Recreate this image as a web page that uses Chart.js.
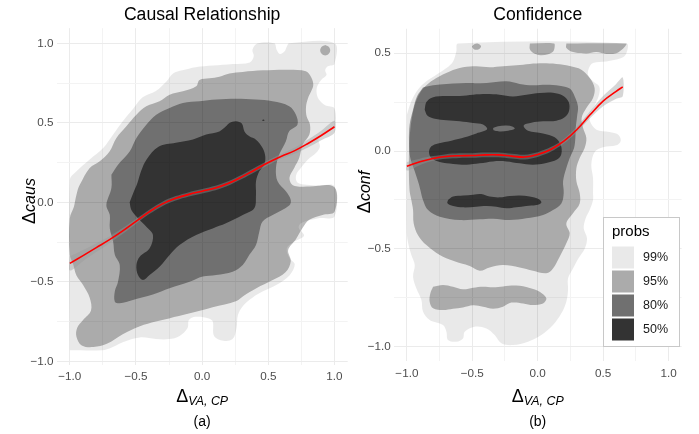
<!DOCTYPE html>
<html>
<head>
<meta charset="utf-8">
<script src="https://cdn.jsdelivr.net/npm/chart.js@4.4.0/dist/chart.umd.min.js"></script>
<style>
  html, body { margin: 0; padding: 0; background: #fff; }
  #wrap { position: relative; width: 699px; height: 434px; }
  canvas { position: absolute; top: 0; }
  #causal { left: 0; }
  #confidence { left: 350px; }
</style>
</head>
<body>
<div id="wrap">
  <canvas id="causal" width="350" height="434"></canvas>
  <canvas id="confidence" width="349" height="434"></canvas>
</div>
<script>
// ---- panel (a): causal relationship, HDR regions as [x, y] outlines ----
const causal99 = [[-1.0,-0.93],[-1.0,0.14],[-0.95,0.195],[-0.85,0.27],[-0.75,0.34],[-0.67,0.43],[-0.60,0.51],[-0.52,0.59],[-0.45,0.66],[-0.35,0.70],[-0.27,0.76],[-0.22,0.81],[-0.15,0.83],[-0.05,0.85],[0.08,0.86],[0.23,0.87],[0.36,0.88],[0.39,0.92],[0.38,0.96],[0.42,1.0],[0.545,1.0],[0.563,0.96],[0.588,0.933],[0.623,0.95],[0.64,0.98],[0.658,1.0],[1.0,1.0],[1.0,0.87],[0.95,0.855],[0.93,0.83],[0.94,0.80],[0.90,0.77],[0.87,0.73],[0.865,0.69],[0.88,0.65],[0.93,0.61],[1.0,0.59],[1.0,0.47],[0.93,0.44],[0.88,0.40],[0.89,0.35],[0.86,0.31],[0.80,0.27],[0.75,0.22],[0.71,0.17],[0.72,0.125],[0.79,0.11],[0.88,0.105],[1.0,0.10],[1.0,-0.09],[0.88,-0.10],[0.75,-0.13],[0.73,-0.16],[0.77,-0.21],[0.69,-0.25],[0.64,-0.29],[0.66,-0.35],[0.70,-0.39],[0.66,-0.46],[0.56,-0.52],[0.46,-0.56],[0.38,-0.60],[0.31,-0.65],[0.27,-0.71],[0.26,-0.79],[0.23,-0.86],[0.16,-0.87],[0.09,-0.84],[0.08,-0.75],[0.05,-0.73],[-0.05,-0.72],[-0.10,-0.74],[-0.11,-0.79],[-0.17,-0.84],[-0.25,-0.86],[-0.35,-0.86],[-0.47,-0.85],[-0.60,-0.88],[-0.70,-0.92],[-0.75,-0.93]];
const causal95 = [[-0.94,0.08],[-0.925,0.11],[-0.85,0.216],[-0.774,0.258],[-0.70,0.32],[-0.648,0.405],[-0.573,0.478],[-0.497,0.551],[-0.422,0.604],[-0.322,0.635],[-0.246,0.677],[-0.146,0.698],[-0.045,0.73],[-0.02,0.77],[0.055,0.78],[0.13,0.79],[0.206,0.81],[0.306,0.82],[0.457,0.83],[0.658,0.834],[0.784,0.824],[0.825,0.785],[0.84,0.74],[0.825,0.70],[0.80,0.655],[0.785,0.60],[0.79,0.54],[0.815,0.49],[0.81,0.425],[0.76,0.363],[0.734,0.28],[0.696,0.216],[0.66,0.153],[0.69,0.105],[0.80,0.10],[1.0,0.095],[1.0,-0.06],[0.91,-0.08],[0.81,-0.11],[0.76,-0.16],[0.71,-0.23],[0.65,-0.30],[0.67,-0.37],[0.63,-0.44],[0.53,-0.49],[0.41,-0.54],[0.31,-0.59],[0.26,-0.62],[0.08,-0.66],[-0.10,-0.70],[-0.25,-0.73],[-0.35,-0.75],[-0.47,-0.78],[-0.60,-0.83],[-0.72,-0.89],[-0.82,-0.91],[-0.91,-0.90],[-0.95,-0.845],[-0.945,-0.79],[-0.90,-0.74],[-0.84,-0.68],[-0.85,-0.60],[-0.90,-0.52],[-0.95,-0.46],[-0.975,-0.39],[-1.0,-0.33],[-1.0,-0.10],[-0.97,-0.03],[-0.955,0.03]];
const causal95Dot = [[0.93,0.99],[0.957,0.978],[0.968,0.956],[0.957,0.934],[0.93,0.924],[0.903,0.934],[0.892,0.956],[0.903,0.978]];
const causal80 = [[-0.686,0.174],[-0.636,0.237],[-0.548,0.32],[-0.497,0.405],[-0.422,0.488],[-0.347,0.551],[-0.246,0.593],[-0.146,0.625],[-0.02,0.635],[0.106,0.646],[0.256,0.652],[0.407,0.646],[0.533,0.635],[0.658,0.604],[0.709,0.551],[0.72,0.488],[0.658,0.447],[0.633,0.384],[0.583,0.30],[0.558,0.216],[0.57,0.132],[0.633,0.069],[0.67,0.015],[0.658,-0.02],[0.533,-0.08],[0.457,-0.12],[0.432,-0.185],[0.407,-0.268],[0.357,-0.33],[0.307,-0.394],[0.231,-0.436],[0.106,-0.457],[0.005,-0.467],[-0.095,-0.50],[-0.246,-0.54],[-0.372,-0.58],[-0.523,-0.614],[-0.623,-0.635],[-0.66,-0.625],[-0.66,-0.56],[-0.636,-0.50],[-0.623,-0.394],[-0.66,-0.33],[-0.673,-0.247],[-0.698,-0.164],[-0.698,-0.08],[-0.724,-0.017],[-0.686,0.09]];
const causal50 = [[-0.548,0.0],[-0.52,0.06],[-0.49,0.12],[-0.46,0.20],[-0.42,0.27],[-0.33,0.35],[-0.20,0.375],[-0.07,0.395],[0.03,0.426],[0.13,0.446],[0.18,0.478],[0.206,0.499],[0.256,0.51],[0.30,0.495],[0.32,0.446],[0.357,0.415],[0.407,0.394],[0.457,0.342],[0.477,0.289],[0.47,0.237],[0.432,0.195],[0.407,0.132],[0.407,0.048],[0.394,-0.038],[0.307,-0.08],[0.18,-0.132],[0.08,-0.164],[-0.045,-0.205],[-0.171,-0.268],[-0.246,-0.331],[-0.322,-0.405],[-0.397,-0.457],[-0.447,-0.488],[-0.485,-0.457],[-0.497,-0.394],[-0.472,-0.342],[-0.397,-0.289],[-0.372,-0.205],[-0.422,-0.153],[-0.485,-0.10],[-0.535,-0.048]];
const causal50Dot = [[0.452,0.516],[0.462,0.521],[0.472,0.516],[0.462,0.511]];

const causalFitX  = [-1.0,-0.9,-0.8,-0.7,-0.6,-0.5,-0.4,-0.3,-0.2,-0.1,0.0,0.1,0.2,0.3,0.4,0.5,0.6,0.7,0.8,0.9,1.0];
const causalFitY  = [-0.384,-0.335,-0.285,-0.235,-0.18,-0.12,-0.06,-0.01,0.025,0.05,0.07,0.09,0.12,0.16,0.205,0.25,0.29,0.325,0.37,0.42,0.475];
const causalFitSe = [0.045,0.035,0.028,0.022,0.018,0.015,0.014,0.014,0.014,0.014,0.014,0.014,0.014,0.014,0.014,0.015,0.016,0.02,0.025,0.03,0.038];

// ---- panel (b): confidence ----
const conf99 = [[-1.0,0.186],[-0.966,0.254],[-0.915,0.314],[-0.851,0.356],[-0.775,0.39],[-0.698,0.424],[-0.647,0.458],[-0.622,0.51],[-0.609,0.55],[0.678,0.55],[0.678,0.50],[0.64,0.475],[0.525,0.458],[0.423,0.45],[0.392,0.424],[0.385,0.39],[0.423,0.356],[0.47,0.33],[0.47,0.29],[0.44,0.24],[0.40,0.19],[0.40,0.152],[0.449,0.109],[0.55,0.097],[0.614,0.084],[0.635,0.053],[0.601,0.029],[0.50,0.019],[0.436,-0.005],[0.41,-0.07],[0.423,-0.138],[0.423,-0.215],[0.423,-0.25],[0.398,-0.30],[0.367,-0.344],[0.352,-0.395],[0.377,-0.446],[0.36,-0.498],[0.311,-0.549],[0.27,-0.60],[0.232,-0.651],[0.232,-0.711],[0.219,-0.77],[0.181,-0.83],[0.117,-0.89],[0.028,-0.941],[-0.074,-0.975],[-0.189,-0.992],[-0.278,-0.983],[-0.329,-0.941],[-0.392,-0.907],[-0.482,-0.898],[-0.558,-0.924],[-0.571,-0.958],[-0.622,-0.975],[-0.686,-0.966],[-0.698,-0.924],[-0.724,-0.89],[-0.826,-0.864],[-0.877,-0.821],[-0.889,-0.762],[-0.928,-0.702],[-0.953,-0.643],[-0.94,-0.583],[-0.966,-0.532],[-0.99,-0.472],[-1.0,-0.421]];
const conf95 = [[-0.98,0.066],[-0.966,0.152],[-0.94,0.237],[-0.90,0.297],[-0.851,0.336],[-0.775,0.373],[-0.673,0.407],[-0.571,0.428],[-0.469,0.433],[-0.367,0.428],[-0.265,0.433],[-0.163,0.438],[-0.061,0.445],[0.041,0.448],[0.143,0.445],[0.245,0.435],[0.334,0.416],[0.398,0.373],[0.435,0.322],[0.423,0.271],[0.372,0.22],[0.336,0.169],[0.347,0.118],[0.372,0.066],[0.359,0.015],[0.321,-0.036],[0.296,-0.087],[0.296,-0.155],[0.321,-0.215],[0.321,-0.268],[0.27,-0.318],[0.219,-0.37],[0.245,-0.421],[0.219,-0.472],[0.168,-0.54],[0.117,-0.60],[0.066,-0.625],[-0.036,-0.612],[-0.138,-0.595],[-0.265,-0.583],[-0.367,-0.595],[-0.443,-0.612],[-0.52,-0.588],[-0.647,-0.561],[-0.749,-0.532],[-0.851,-0.481],[-0.915,-0.43],[-0.948,-0.37],[-0.953,-0.30],[-0.966,-0.25],[-0.98,-0.199],[-0.985,-0.053]];
const conf95Band = [[-0.80,-0.694],[-0.724,-0.685],[-0.647,-0.694],[-0.571,-0.707],[-0.494,-0.699],[-0.418,-0.694],[-0.341,-0.697],[-0.265,-0.692],[-0.163,-0.688],[-0.061,-0.70],[0.015,-0.719],[0.066,-0.753],[0.041,-0.779],[-0.036,-0.787],[-0.112,-0.779],[-0.201,-0.775],[-0.265,-0.796],[-0.341,-0.806],[-0.418,-0.796],[-0.494,-0.789],[-0.571,-0.80],[-0.647,-0.806],[-0.724,-0.813],[-0.80,-0.804],[-0.826,-0.77],[-0.821,-0.728]];
const conf95TopA = [[-0.503,0.533],[-0.485,0.546],[-0.455,0.548],[-0.433,0.535],[-0.45,0.52],[-0.485,0.519]];
const conf95TopB = [[-0.06,0.55],[-0.06,0.52],[-0.03,0.50],[0.02,0.49],[0.08,0.495],[0.12,0.51],[0.13,0.535],[0.125,0.55]];
const conf95TopC = [[0.219,0.55],[0.219,0.527],[0.27,0.506],[0.372,0.499],[0.449,0.506],[0.525,0.496],[0.601,0.50],[0.652,0.523],[0.678,0.544],[0.678,0.55]];
const conf80 = [[-0.877,0.325],[-0.80,0.336],[-0.596,0.346],[-0.392,0.348],[-0.24,0.356],[-0.138,0.343],[-0.036,0.336],[0.066,0.339],[0.168,0.334],[0.245,0.319],[0.283,0.279],[0.308,0.228],[0.301,0.177],[0.291,0.118],[0.288,0.066],[0.278,0.015],[0.245,-0.036],[0.219,-0.087],[0.194,-0.155],[0.199,-0.215],[0.181,-0.268],[0.117,-0.302],[0.041,-0.327],[-0.087,-0.344],[-0.214,-0.353],[-0.341,-0.346],[-0.443,-0.349],[-0.596,-0.353],[-0.749,-0.336],[-0.838,-0.302],[-0.877,-0.25],[-0.897,-0.199],[-0.907,-0.172],[-0.94,-0.104],[-0.974,-0.036],[-0.984,0.049],[-0.979,0.135],[-0.953,0.211],[-0.923,0.279]];
const conf50 = [[-0.864,0.211],[-0.851,0.25],[-0.805,0.274],[-0.698,0.281],[-0.596,0.281],[-0.494,0.288],[-0.392,0.291],[-0.291,0.288],[-0.189,0.279],[-0.087,0.288],[0.015,0.297],[0.117,0.298],[0.194,0.283],[0.237,0.25],[0.24,0.206],[0.206,0.172],[0.143,0.155],[0.041,0.152],[-0.048,0.145],[-0.107,0.131],[-0.074,0.104],[0.041,0.09],[0.13,0.07],[0.176,0.032],[0.181,-0.015],[0.148,-0.044],[0.066,-0.061],[-0.036,-0.07],[-0.138,-0.063],[-0.24,-0.053],[-0.341,-0.053],[-0.443,-0.063],[-0.545,-0.07],[-0.647,-0.066],[-0.749,-0.056],[-0.813,-0.036],[-0.831,-0.005],[-0.813,0.024],[-0.762,0.039],[-0.66,0.053],[-0.558,0.07],[-0.469,0.09],[-0.387,0.111],[-0.418,0.135],[-0.494,0.143],[-0.596,0.152],[-0.698,0.157],[-0.787,0.165],[-0.844,0.182]];
const conf50Hole = [[-0.341,0.118],[-0.303,0.126],[-0.24,0.13],[-0.189,0.124],[-0.176,0.114],[-0.227,0.104],[-0.291,0.10],[-0.336,0.106]];
const conf50Band = [[-0.686,-0.25],[-0.647,-0.233],[-0.571,-0.228],[-0.494,-0.223],[-0.431,-0.22],[-0.367,-0.233],[-0.291,-0.237],[-0.214,-0.23],[-0.138,-0.227],[-0.061,-0.233],[0.01,-0.247],[0.028,-0.264],[-0.01,-0.276],[-0.087,-0.281],[-0.163,-0.288],[-0.24,-0.293],[-0.316,-0.285],[-0.392,-0.281],[-0.469,-0.285],[-0.571,-0.288],[-0.647,-0.281],[-0.69,-0.267]];

const confFitX  = [-1.0,-0.9,-0.8,-0.7,-0.6,-0.5,-0.4,-0.3,-0.2,-0.1,0.0,0.1,0.2,0.3,0.4,0.5,0.6,0.65];
const confFitY  = [-0.078,-0.055,-0.038,-0.028,-0.024,-0.023,-0.02,-0.02,-0.026,-0.031,-0.018,0.008,0.05,0.11,0.185,0.255,0.305,0.328];
const confFitSe = [0.022,0.016,0.012,0.012,0.012,0.012,0.012,0.012,0.012,0.012,0.012,0.012,0.012,0.014,0.018,0.026,0.038,0.048];

const levelLabels = ['99%', '95%', '80%', '50%'];
const levelColors = ['#E9E9E9', '#ABABAB', '#707070', '#333333'];
// translucent black, stacked so the nested regions give the colours above
const levelFills = ['rgba(0,0,0,0.086)', 'rgba(0,0,0,0.266)', 'rgba(0,0,0,0.345)', 'rgba(0,0,0,0.545)'];

const FONT = "'Liberation Sans', Arial, Helvetica, sans-serif";

function region(points, fill, order) {
    const data = points.map(([x, y]) => ({x, y}));
    data.push(data[0]);
    return {
        data: data,
        showLine: true,
        fill: 'shape',
        backgroundColor: fill,
        borderColor: 'rgba(0,0,0,0)',
        borderWidth: 0,
        pointRadius: 0,
        tension: 0.35,
        order: order
    };
}

function ribbon(xs, ys, se) {
    const upper = xs.map((x, i) => ({x, y: ys[i] + se[i]}));
    const lower = xs.map((x, i) => ({x, y: ys[i] - se[i]})).reverse();
    const data = upper.concat(lower);
    data.push(data[0]);
    return {
        data: data, showLine: true, fill: 'shape',
        backgroundColor: 'rgba(153,153,153,0.4)', borderColor: 'rgba(0,0,0,0)',
        borderWidth: 0, pointRadius: 0, tension: 0.3, order: 2
    };
}

function fitLine(xs, ys) {
    return {
        data: xs.map((x, i) => ({x, y: ys[i]})),
        showLine: true, fill: false, borderColor: '#FF0000', borderWidth: 1.6,
        pointRadius: 0, tension: 0.4, order: 1
    };
}

const isMajor = (v) => Math.abs(v * 2 - Math.round(v * 2)) < 1e-6;
const tickText = (v) => isMajor(v) ? Number(v).toFixed(1).replace('-', '\u2212') : '';

function linearAxis(min, max, fitSize, horizontal) {
    return {
        type: 'linear', min: min, max: max,
        border: { display: false },
        grid: {
            color: (c) => isMajor(c.tick.value) ? '#EBEBEB' : '#F3F3F3',
            lineWidth: 1, drawTicks: false
        },
        ticks: {
            stepSize: 0.25, includeBounds: false, autoSkip: false, maxRotation: 0,
            maxTicksLimit: 20, padding: horizontal ? 5 : 3,
            color: '#4D4D4D', font: { family: FONT, size: 11.7 },
            callback: tickText
        },
        afterFit: (s) => { if (horizontal) s.height = fitSize; else s.width = fitSize; }
    };
}

function drawRuns(ctx, parts, cx, baseY) {
    const widths = parts.map(p => {
        ctx.font = (p.italic ? 'italic ' : '') + p.size + 'px ' + FONT;
        return ctx.measureText(p.text).width;
    });
    let x = cx - widths.reduce((a, b) => a + b, 0) / 2;
    ctx.textAlign = 'left';
    ctx.textBaseline = 'alphabetic';
    parts.forEach((p, i) => {
        ctx.font = (p.italic ? 'italic ' : '') + p.size + 'px ' + FONT;
        ctx.fillText(p.text, x, baseY + (p.dy || 0));
        x += widths[i];
    });
}

function panelText(cfg) {
    return {
        id: 'panelText',
        afterDraw(chart) {
            const ctx = chart.ctx;
            const a = chart.chartArea;
            const cx = (a.left + a.right) / 2;
            ctx.save();
            ctx.fillStyle = '#000';
            ctx.textAlign = 'center';
            ctx.textBaseline = 'alphabetic';
            ctx.font = '17.6px ' + FONT;
            ctx.fillText(cfg.title, cx, 19.5);
            ctx.font = '14px ' + FONT;
            ctx.fillText(cfg.caption, cx, 426);
            drawRuns(ctx, [{text: '\u0394', size: 18}, {text: 'VA, CP', size: 12.4, italic: true, dy: 3}], cx, 402);
            ctx.translate(cfg.yTitleX, cfg.yTitleY);
            ctx.rotate(-Math.PI / 2);
            drawRuns(ctx, [{text: '\u0394', size: 18}, {text: cfg.yName, size: 16, italic: true}], 0, 0);
            ctx.restore();
        }
    };
}

const probsLegend = {
    id: 'probsLegend',
    afterDraw(chart) {
        const ctx = chart.ctx;
        ctx.save();
        ctx.fillStyle = '#fff';
        ctx.fillRect(253, 217, 76, 129);
        ctx.strokeStyle = '#C8C8C8';
        ctx.lineWidth = 1;
        ctx.strokeRect(253.5, 217.5, 76, 129);
        ctx.fillStyle = '#000';
        ctx.font = '15px ' + FONT;
        ctx.textAlign = 'left';
        ctx.textBaseline = 'alphabetic';
        ctx.fillText('probs', 262, 236);
        levelLabels.forEach((lab, i) => {
            const top = 246.5 + i * 24;
            ctx.fillStyle = levelColors[i];
            ctx.fillRect(262, top, 22, 22);
            ctx.fillStyle = '#1A1A1A';
            ctx.font = '12.5px ' + FONT;
            ctx.textBaseline = 'middle';
            ctx.fillText(lab, 293, top + 11.5);
        });
        ctx.restore();
    }
};

function baseOptions(xr, yr, pad, yWidth) {
    return {
        responsive: false,
        animation: false,
        events: [],
        layout: { padding: pad },
        plugins: { legend: { display: false }, tooltip: { enabled: false }, title: { display: false } },
        scales: {
            x: linearAxis(xr[0], xr[1], 22, true),
            y: linearAxis(yr[0], yr[1], yWidth, false)
        }
    };
}

new Chart(document.getElementById('causal').getContext('2d'), {
    type: 'scatter',
    data: {
        datasets: [
            region(causal99, levelFills[0], 50),
            region(causal95, levelFills[1], 40),
            region(causal95Dot, levelFills[1], 39),
            region(causal80, levelFills[2], 30),
            region(causal50, levelFills[3], 20),
            region(causal50Dot, levelFills[3], 19),
            ribbon(causalFitX, causalFitY, causalFitSe),
            fitLine(causalFitX, causalFitY)
        ]
    },
    options: baseOptions([-1.1, 1.1], [-1.02, 1.095], { left: 0, top: 28.2, right: 2.3, bottom: 47.5 }, 56.6),
    plugins: [panelText({ title: 'Causal Relationship', caption: '(a)', yName: 'caus', yTitleX: 35, yTitleY: 201 })]
});

const holeDs = region(conf50Hole, levelColors[2], 15);

new Chart(document.getElementById('confidence').getContext('2d'), {
    type: 'scatter',
    data: {
        datasets: [
            region(conf99, levelFills[0], 50),
            region(conf95, levelFills[1], 40),
            region(conf95Band, levelFills[1], 39),
            region(conf95TopA, levelFills[1], 38),
            region(conf95TopB, levelFills[1], 37),
            region(conf95TopC, levelFills[1], 36),
            region(conf80, levelFills[2], 30),
            region(conf50, levelFills[3], 20),
            region(conf50Band, levelFills[3], 19),
            holeDs,
            ribbon(confFitX, confFitY, confFitSe),
            fitLine(confFitX, confFitY)
        ]
    },
    options: baseOptions([-1.1, 1.1], [-1.075, 0.625], { left: 0, top: 28.75, right: 17.4, bottom: 50.7 }, 43.8),
    plugins: [panelText({ title: 'Confidence', caption: '(b)', yName: 'conf', yTitleX: 20, yTitleY: 192 }), probsLegend]
});
</script>
</body>
</html>
